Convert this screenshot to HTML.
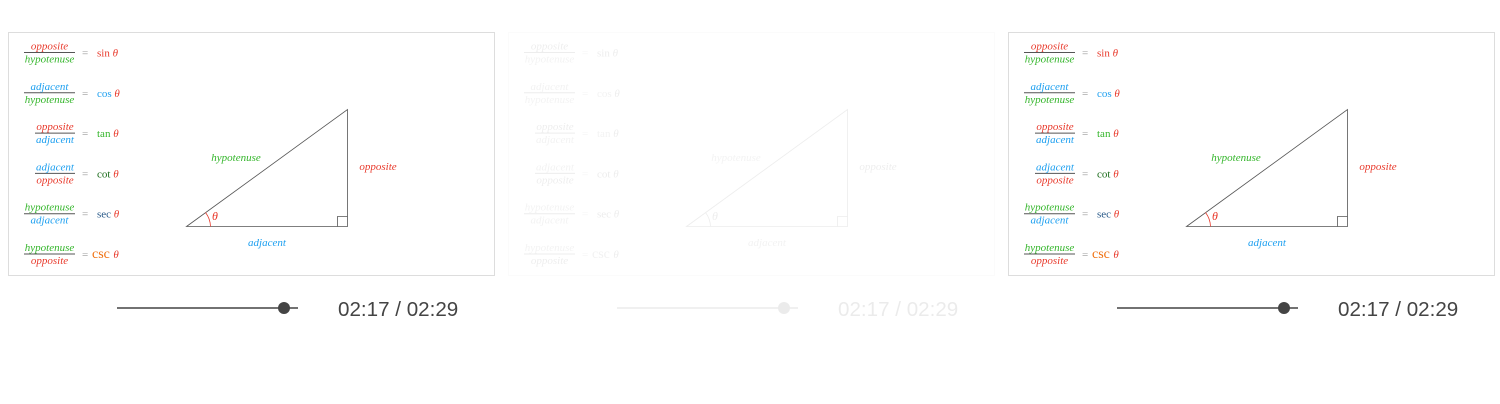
<!DOCTYPE html>
<html><head><meta charset="utf-8"><style>
html,body{margin:0;padding:0;background:#fff;width:1500px;height:404px;overflow:hidden}
svg text{font-family:"Liberation Serif",serif}
.t{font-family:"Liberation Sans",sans-serif}
.faded{filter:grayscale(1)}
</style></head><body>
<svg id="s" width="1500" height="404" xmlns="http://www.w3.org/2000/svg"></svg>
<script>
const offsets=[0,500,1000];
const opac=[1,0.1,1];
const nums=["opposite","adjacent","opposite","adjacent","hypotenuse","hypotenuse"];
const dens=["hypotenuse","hypotenuse","adjacent","opposite","adjacent","opposite"];
const funcs=["sin","cos","tan","cot","sec","csc"];
const C={opposite:"#e8392b",adjacent:"#1ea0f0",hypotenuse:"#33b52a"};
const fcol=["#e8392b","#1ea0f0","#33b52a","#1a6b1a","#2a5a8a","#f07010"];
const NS="http://www.w3.org/2000/svg";
const s=document.getElementById('s');
function mk(tag,attrs,parent,txt){const e=document.createElementNS(NS,tag);for(const k in attrs)e.setAttribute(k,attrs[k]);if(txt!==undefined)e.textContent=txt;parent.appendChild(e);return e;}
offsets.forEach((ox,pi)=>{
 const g=mk('g',{transform:`translate(${ox},0)`,opacity:opac[pi]},s);
 if(pi==1) g.setAttribute('class','faded');
 
 
 const box=mk('rect',{x:8.5,y:32.5,width:486,height:243,fill:'#fff',stroke:'#ddd'},g);
 
 
 funcs.forEach((f,i)=>{
  const cy=52.5+i*40.3;
  const rg=mk('g',{},g);
  
  
  const wide=(nums[i]=="hypotenuse"||dens[i]=="hypotenuse");
  const x1=wide?24:35;
  mk('line',{x1:x1,y1:cy,x2:75,y2:cy,stroke:'#555','stroke-width':1},rg);
  const cx=(x1+75)/2;
  mk('text',{x:cx,y:cy-3,'text-anchor':'middle','font-size':11,'font-style':'italic',fill:C[nums[i]]},rg,nums[i]);
  mk('text',{x:cx,y:cy+10,'text-anchor':'middle','font-size':11,'font-style':'italic',fill:C[dens[i]]},rg,dens[i]);
  mk('text',{x:82,y:cy+4,'font-size':11,fill:'#999'},rg,'=');
  const ft=mk('text',{x:f=="csc"?92:97,y:cy+4,'font-size':f=="csc"?14:11,fill:fcol[i]},rg,f+' ');
  mk('tspan',{'font-style':'italic','font-size':11,fill:'#e8392b'},ft,'θ');
 });
 const tri=mk('g',{},g);
 
 
 mk('path',{d:'M186.5 226.5 L347.5 109.5 L347.5 226.5 Z',fill:'none',stroke:'#555','stroke-width':0.8},tri);
 mk('path',{d:'M337.5 226.5 V216.5 H347.5',fill:'none',stroke:'#555','stroke-width':0.8},tri);
 mk('path',{d:'M205.5 212.5 A24 24 0 0 1 210.5 226.5',fill:'none',stroke:'#e8392b','stroke-width':0.8},tri);
 mk('text',{x:212,y:220,'font-size':12,'font-style':'italic',fill:'#e8392b'},tri,'θ');
 mk('text',{x:236,y:161,'text-anchor':'middle','font-size':11,'font-style':'italic',fill:C.hypotenuse},tri,'hypotenuse');
 mk('text',{x:378,y:170,'text-anchor':'middle','font-size':11,'font-style':'italic',fill:C.opposite},tri,'opposite');
 mk('text',{x:267,y:246,'text-anchor':'middle','font-size':11,'font-style':'italic',fill:C.adjacent},tri,'adjacent');
 const sl=mk('g',{},g);
 
 
 mk('line',{x1:117,y1:308,x2:298,y2:308,stroke:'#444','stroke-width':1.5},sl);
 mk('circle',{cx:284,cy:308,r:6,fill:'#444'},sl);
 const tt=mk('text',{x:338,y:316,'font-size':20.6,fill:'#444',class:'t'},g,'02:17 / 02:29');
 
 
});
</script>
</body></html>
